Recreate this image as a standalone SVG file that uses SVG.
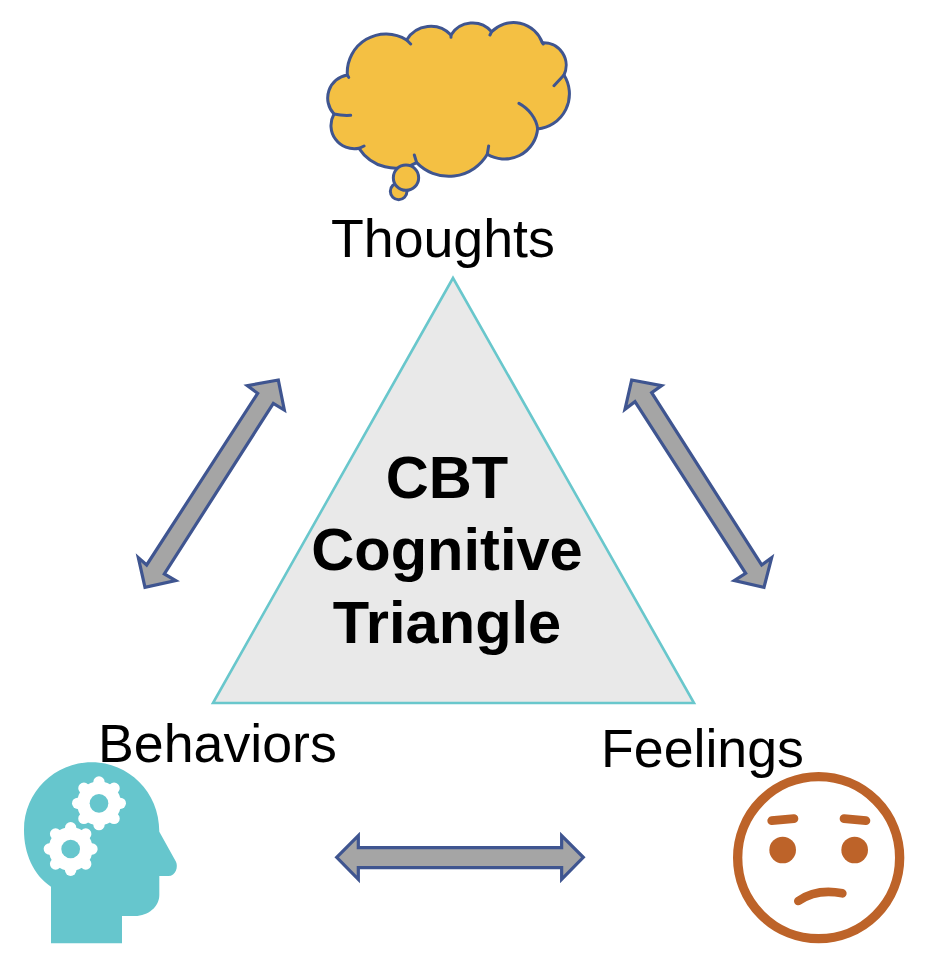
<svg xmlns="http://www.w3.org/2000/svg" width="930" height="978" viewBox="0 0 930 978">
<style>
.lbl{font-family:"Liberation Sans",Arial,sans-serif;font-size:53.7px;fill:#000}
.ttl{font-family:"Liberation Sans",Arial,sans-serif;font-size:59.6px;font-weight:700;fill:#000;text-anchor:middle}
.arrow{fill:#a5a5a5;stroke:#3f5590;stroke-width:9.6;stroke-linejoin:miter}
.cloud{fill:#f4c043;stroke:#3f5590;stroke-width:9;stroke-linejoin:round;stroke-linecap:round}
.tail{fill:none;stroke:#3f5590;stroke-width:9;stroke-linecap:round}
.tooth{stroke:#fff;stroke-width:34;stroke-linecap:round}
.face{fill:none;stroke:#bd6329;stroke-width:26;stroke-linecap:round}
</style>
<defs>
<g id="gear">
<circle r="66" fill="#fff"/>
<g class="tooth">
<line y1="-58" y2="-64"/><line y1="-58" y2="-64" transform="rotate(45)"/><line y1="-58" y2="-64" transform="rotate(90)"/><line y1="-58" y2="-64" transform="rotate(135)"/><line y1="-58" y2="-64" transform="rotate(180)"/><line y1="-58" y2="-64" transform="rotate(225)"/><line y1="-58" y2="-64" transform="rotate(270)"/><line y1="-58" y2="-64" transform="rotate(315)"/>
</g>
<circle r="28" fill="#66c6cd"/>
</g>
</defs>
<rect width="930" height="978" fill="#fff"/>
<g id="connectors">
<polygon class="arrow" transform="translate(125 370) scale(.3333)" points="460,30 367,47 398,70 65,585 40,563 60,652 152,632 118,612 445,100 478,120"/>
<polygon class="arrow" transform="translate(615 370) scale(.3333)" points="50,30 140,47 110,68 440,585 470,563 447,652 358,632 392,610 60,95 30,118"/>
<polygon class="arrow" transform="translate(325 825) scale(.3333)" points="35,97 100,32 100,68 710,68 710,32 775,97 710,163 710,128 100,128 100,163"/>
</g>
<g id="triangle">
<polygon points="453,278 213,703 694,703" fill="#e9e9e9" stroke="#69c7cc" stroke-width="2.6"/>
<text class="ttl" x="447" y="498">CBT</text>
<text class="ttl" x="447" y="570">Cognitive</text>
<text class="ttl" x="447" y="643">Triangle</text>
</g>
<g id="thoughts">
<g transform="translate(310 20) scale(.3333)">
<circle class="cloud" cx="266" cy="514" r="25"/>
<path class="cloud" d="M112 165A116 116 0 0 1 290 60A84 84 0 0 1 423 45A76 76 0 0 1 545 35A92 92 0 0 1 697 68A68 68 0 0 1 762 165A106 106 0 0 1 683 327A100 100 0 0 1 532 403A134 134 0 0 1 320 428A131 131 0 0 1 147 385A70 70 0 0 1 72 282A70 70 0 0 1 112 165Z"/>
<path class="tail" d="M290 60L302 72M423 45V52M545 35L540 45M697 68L700 72M762 165L732 197M683 327C680 295 655 265 627 250M532 403L536 378M320 428L313 405M147 385L162 378M72 282C85 285 105 287 122 286M112 165L116 172"/>
<circle class="cloud" cx="288" cy="473" r="38"/>
</g>
<text class="lbl" x="331" y="257">Thoughts</text>
</g>
<g id="behaviors">
<text class="lbl" x="98" y="762">Behaviors</text>
<g transform="translate(10 750) scale(.3333)">
<path fill="#66c6cd" d="M123 580V410C70 375 42 310 42 240C42 125 135 37 245 37C355 37 448 125 448 245L498 335C505 350 498 378 475 378H448V435C448 470 415 498 375 498H336V580Z"/>
<use href="#gear" x="267" y="160"/>
<use href="#gear" x="182" y="297"/>
</g>
</g>
<g id="feelings">
<text class="lbl" x="601" y="767">Feelings</text>
<g transform="translate(720 760) scale(.3333)">
<circle cx="296" cy="293" r="243" fill="none" stroke="#bd6329" stroke-width="28"/>
<circle cx="188" cy="270" r="40" fill="#bd6329"/>
<circle cx="404" cy="270" r="40" fill="#bd6329"/>
<path class="face" d="M155 182L222 176M372 176L438 182M235 423Q290 385 367 400"/>
</g>
</g>
</svg>
